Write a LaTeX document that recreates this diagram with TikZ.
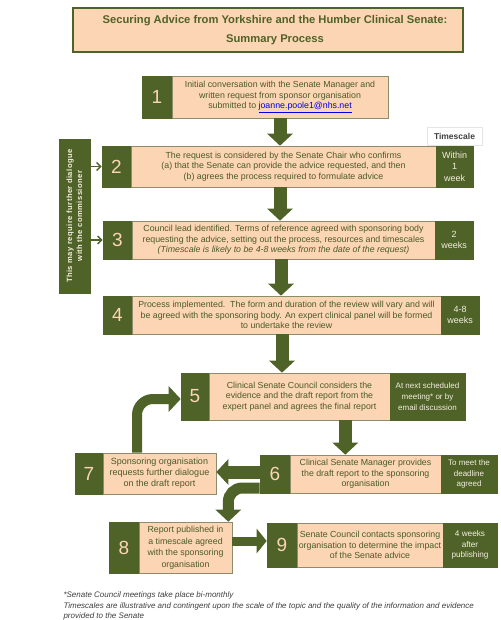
\documentclass[tikz,border=0pt]{standalone}
\usepackage{fontspec}
\setmainfont{Liberation Sans}
\usetikzlibrary{arrows.meta,calc}
\definecolor{olive}{HTML}{4F6228}
\definecolor{peach}{HTML}{FCD5B4}
\definecolor{boxline}{HTML}{8C8C6A}
\definecolor{txt}{HTML}{4A5A28}
\definecolor{tstext}{HTML}{F4EFDF}
\definecolor{foot}{HTML}{3F3F3F}
\definecolor{linkblue}{HTML}{0000EE}
\begin{document}
\begin{tikzpicture}[x=1pt,y=-1pt,
  peachbox/.style={draw=boxline, fill=peach, line width=0.6pt, inner sep=0pt, text=txt,
    font=\fontsize{8.8}{10.5}\selectfont, align=center},
  numbox/.style={fill=olive, draw=olive, line width=0.6pt, inner sep=0pt, text=peach,
    font=\fontsize{19}{19}\selectfont},
  tsbox/.style={fill=olive, draw=olive, line width=0.6pt, inner sep=0pt, text=tstext,
    font=\fontsize{9}{11.5}\selectfont, align=center},
  bigarrow/.style={draw=olive, line width=13pt, -{Triangle[width=25pt,length=12pt]}},
  smallarrow/.style={draw=olive, line width=1.4pt, -{Straight Barb[width=8pt,length=4pt]}},
]
\useasboundingbox[fill=white] (0,0) rectangle (500,620);

% title
\node[draw=olive, line width=1.5pt, fill=peach, minimum width=390pt, minimum height=44pt, inner sep=0pt] (title) at (268,30) {};
\node[text=olive, font=\bfseries\fontsize{11.2}{19}\selectfont, align=center] (titletext) at (275,30.5)
  {Securing Advice from Yorkshire and the Humber Clinical Senate:\\Summary Process};

% timescale header
\node[draw=black!10, line width=0.6pt, minimum width=55pt, minimum height=18pt, inner sep=0pt,
  text=foot, font=\bfseries\fontsize{8.5}{10}\selectfont] (tshead) at (454.5,136) {Timescale};

% step 1
\node[numbox, minimum width=30pt, minimum height=42pt] (n1) at (157,97) {1};
\node[peachbox, minimum width=216pt, minimum height=42pt] (p1) at (280,97)
  {Initial conversation with the Senate Manager and\\written request from sponsor organisation\\submitted to \textcolor{linkblue}{\underline{joanne.poole1@nhs.net}}};

% step 2
\node[numbox, minimum width=29pt, minimum height=41pt] (n2) at (116.5,166.5) {2};
\node[peachbox, minimum width=305pt, minimum height=41pt] (p2) at (283.5,166.5)
  {The request is considered by the Senate Chair who confirms\\(a) that the Senate can provide the advice requested, and then\\(b) agrees the process required to formulate advice};
\node[tsbox, minimum width=37pt, minimum height=41pt] (t2) at (454.5,166.5) {Within\\1\\week};

% step 3
\node[numbox, minimum width=29pt, minimum height=38pt] (n3) at (117.5,240) {3};
\node[peachbox, minimum width=303pt, minimum height=38pt] (p3) at (283.5,240)
  {Council lead identified. Terms of reference agreed with sponsoring body\\requesting the advice, setting out the process, resources and timescales\\\textit{(Timescale is likely to be 4-8 weeks from the date of the request)}};
\node[tsbox, minimum width=38pt, minimum height=38pt] (t3) at (454,240) {2\\weeks};

% step 4
\node[numbox, minimum width=29pt, minimum height=38pt] (n4) at (117.5,315) {4};
\node[peachbox, minimum width=309pt, minimum height=38pt] (p4) at (286.5,315)
  {Process implemented.\ \ The form and duration of the review will vary and will\\be agreed with the sponsoring body. An expert clinical panel will be formed\\to undertake the review};
\node[tsbox, minimum width=38pt, minimum height=38pt] (t4) at (460,315) {4-8\\weeks};

% step 5
\node[numbox, minimum width=28pt, minimum height=47pt] (n5) at (195,396.5) {5};
\node[peachbox, minimum width=181pt, minimum height=47pt] (p5) at (299.5,396.5)
  {Clinical Senate Council considers the\\evidence and the draft report from the\\expert panel and agrees the final report};
\node[tsbox, minimum width=75pt, minimum height=47pt, font=\fontsize{8}{10.8}\selectfont] (t5) at (427.5,396.5)
  {At next scheduled\\meeting* or by\\email discussion};

% step 6
\node[numbox, minimum width=30pt, minimum height=38pt] (n6) at (275,474) {6};
\node[peachbox, minimum width=151pt, minimum height=38pt] (p6) at (365.5,474)
  {Clinical Senate Manager provides\\the draft report to the sponsoring\\organisation};
\node[tsbox, minimum width=56pt, minimum height=38pt, font=\fontsize{8}{10.5}\selectfont] (t6) at (469,474)
  {To meet the\\deadline\\agreed};

% step 7
\node[numbox, minimum width=28pt, minimum height=41pt] (n7) at (89,473.5) {7};
\node[peachbox, minimum width=113pt, minimum height=41pt, font=\fontsize{9}{11}\selectfont] (p7) at (159.5,473.5)
  {Sponsoring organisation\\requests further dialogue\\on the draft report};

% step 8
\node[numbox, minimum width=30pt, minimum height=51pt] (n8) at (124,547.5) {8};
\node[peachbox, minimum width=93pt, minimum height=51pt, font=\fontsize{8.8}{11.5}\selectfont] (p8) at (185.5,547.5)
  {Report published in\\a timescale agreed\\with the sponsoring\\organisation};

% step 9
\node[numbox, minimum width=30pt, minimum height=44pt] (n9) at (282,545) {9};
\node[peachbox, minimum width=146pt, minimum height=44pt] (p9) at (370,545)
  {Senate Council contacts sponsoring\\organisation to determine the impact\\of the Senate advice};
\node[tsbox, minimum width=54pt, minimum height=44pt, font=\fontsize{8.2}{10.5}\selectfont] (t9) at (470,545)
  {4 weeks\\after\\publishing};

% left bar
\node[fill=olive, draw=olive, minimum width=31pt, minimum height=154pt, inner sep=0pt] (bar) at (74.5,216) {};
\node[rotate=90, text=tstext, font=\bfseries\fontsize{7.6}{10}\selectfont\addfontfeatures{LetterSpace=6}, align=center] (bartext) at (bar.center)
  {This may require further dialogue\\with the commissioner};

% arrows
\draw[bigarrow] (p1.south) -- (p1.south |- p2.north);
\draw[bigarrow] (p2.south -| p1.south) -- (p3.north -| p1.south);
\draw[bigarrow] ([xshift=1pt]p3.south -| p1.south) -- ([xshift=1pt]p4.north -| p1.south);
\draw[bigarrow] ([xshift=2pt]p4.south -| p1.south) -- ([xshift=2pt]p5.north -| p1.south);
\draw[bigarrow] ([xshift=-45pt]p5.south east) -- ([xshift=-45pt]p5.south east |- n6.north);
\draw[bigarrow] ([yshift=2pt]n6.west) -- ([yshift=2pt]n6.west -| p7.east);
\draw[bigarrow, line width=10pt, rounded corners=16pt] ([xshift=-22.5pt]p7.north) |- ([yshift=-2.5pt]n5.west);
\draw[bigarrow, line width=11pt, rounded corners=14pt] ([yshift=-14pt]n6.west) -| ([xshift=-4pt]p8.north east);
\draw[bigarrow, line width=9pt, -{Triangle[width=24pt,length=10pt]}] ([yshift=6.5pt]p8.east) -- ([yshift=6.5pt]p8.east -| n9.west);
\draw[smallarrow] (bar.east |- n2.west) -- (n2.west);
\draw[smallarrow] (bar.east |- n3.west) -- (n3.west);

% footnotes
\node[anchor=west, text=foot, font=\itshape\fontsize{8}{9.7}\selectfont, align=left] (foot) at (60,606)
  {*Senate Council meetings take place bi-monthly\\[1pt]Timescales are illustrative and contingent upon the scale of the topic and the quality of the information and evidence\\provided to the Senate};
\end{tikzpicture}
\end{document}
